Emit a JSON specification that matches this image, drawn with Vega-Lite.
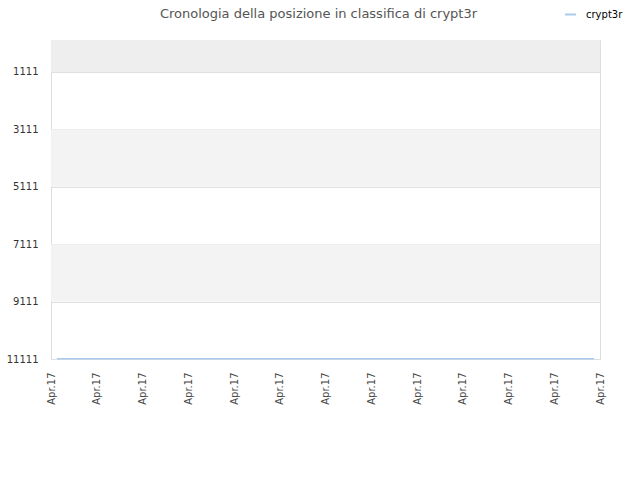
{
  "$schema": "https://vega.github.io/schema/vega-lite/v6.json",
  "width": 549,
  "height": 319,
  "autosize": "none",
  "padding": {"left": 51, "top": 40, "right": 40, "bottom": 121},
  "background": "#ffffff",
  "title": {
    "text": "Cronologia della posizione in classifica di crypt3r",
    "fontSize": 13,
    "font": "DejaVu Sans",
    "fontWeight": "normal",
    "letterSpacing": 0.5,
    "color": "#555555",
    "offset": -13,
    "dx": -7
  },
  "datasets": {
    "bands": [
      {"from": 0, "to": 1111, "kind": "top"},
      {"from": 3111, "to": 5111, "kind": "band"},
      {"from": 7111, "to": 9111, "kind": "band"}
    ],
    "ranks": [
      {"day": 0.13, "rank": 11100, "player": "crypt3r"},
      {"day": 6, "rank": 11100, "player": "crypt3r"},
      {"day": 11.87, "rank": 11100, "player": "crypt3r"}
    ]
  },
  "layer": [
    {
      "data": {"name": "bands"},
      "transform": [{"filter": "datum.kind == 'top'"}],
      "mark": {"type": "rect", "color": "#eeeeee"},
      "encoding": {
        "y": {"field": "from", "type": "quantitative", "scale": {"domain": [0, 11111], "reverse": true}},
        "y2": {"field": "to"}
      }
    },
    {
      "data": {"name": "bands"},
      "transform": [{"filter": "datum.kind == 'band'"}],
      "mark": {"type": "rect", "color": "#f3f3f3"},
      "encoding": {
        "y": {"field": "from", "type": "quantitative"},
        "y2": {"field": "to"}
      }
    },
    {
      "data": {"name": "ranks"},
      "mark": {"type": "line", "strokeWidth": 1.5},
      "encoding": {
        "x": {
          "field": "day",
          "type": "quantitative",
          "title": null,
          "scale": {"domain": [0, 12], "nice": false},
          "axis": {
            "values": [0, 1, 2, 3, 4, 5, 6, 7, 8, 9, 10, 11, 12],
            "labelExpr": "'Apr.17'",
            "labelAngle": -90,
            "labelAlign": "right",
            "labelBaseline": "middle",
            "labelFont": "DejaVu Sans",
            "labelFontSize": 10,
            "labelColor": "#444444",
            "labelPadding": 13,
            "ticks": false,
            "grid": false,
            "domain": false
          }
        },
        "y": {
          "field": "rank",
          "type": "quantitative",
          "title": null,
          "scale": {"domain": [0, 11111], "reverse": true, "nice": false, "zero": false},
          "axis": {
            "values": [1111, 3111, 5111, 7111, 9111, 11111],
            "labelFont": "DejaVu Sans",
            "labelFontSize": 10,
            "labelColor": "#333333",
            "labelPadding": 13,
            "ticks": false,
            "domain": false,
            "grid": true,
            "gridColor": "#e0e0e0",
            "format": "d"
          }
        },
        "color": {
          "field": "player",
          "type": "nominal",
          "scale": {"range": ["#a8cbeb"]},
          "legend": {
            "title": null,
            "orient": "none",
            "legendX": 513,
            "legendY": -32,
            "symbolType": "stroke",
            "symbolSize": 120,
            "symbolStrokeWidth": 2,
            "labelOffset": 9,
            "labelFont": "DejaVu Sans",
            "labelFontSize": 10,
            "labelColor": "#000000"
          }
        }
      }
    }
  ],
  "config": {
    "view": {"stroke": "#dddddd"}
  }
}
